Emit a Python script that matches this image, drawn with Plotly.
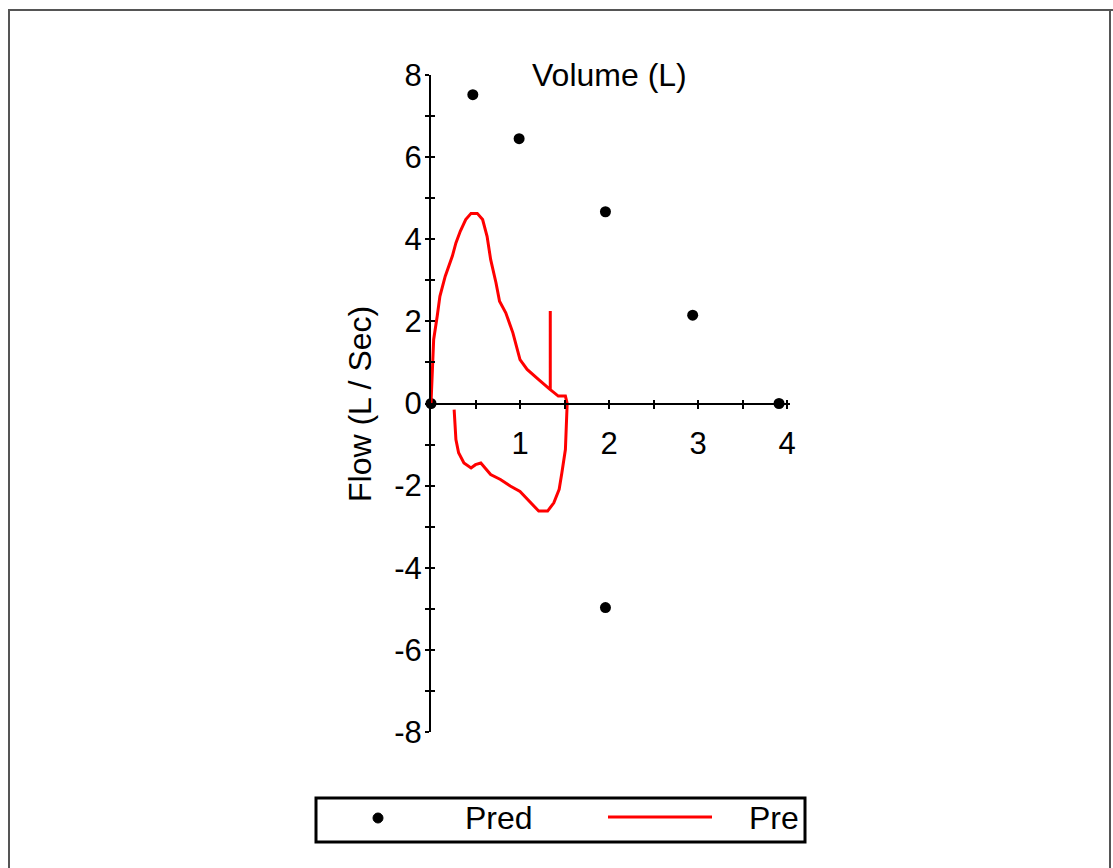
import plotly.graph_objects as go

# ---- data ----
pred_volume = [0.0, 0.47, 0.99, 1.96, 2.94, 3.91, 1.96]
pred_flow = [0.0, 7.52, 6.45, 4.67, 2.15, 0.0, -4.97]

pre_volume = [0.00, 0.01, 0.03, 0.07, 0.10, 0.16, 0.24, 0.28, 0.33, 0.39, 0.45, 0.52,
              0.58, 0.63, 0.67, 0.73, 0.77, 0.84, 0.92, 1.00, 1.08, 1.21, 1.31, 1.34,
              1.34, 1.34, 1.43, 1.51, 1.53,
              1.52, 1.51, 1.47, 1.44, 1.38, 1.31, 1.21, 1.12, 1.00, 0.89, 0.78, 0.67,
              0.56, 0.50, 0.45, 0.37, 0.31, 0.28, 0.26]
pre_flow = [0.00, 0.66, 1.56, 2.13, 2.61, 3.10, 3.59, 3.91, 4.20, 4.48, 4.63, 4.63,
            4.48, 4.07, 3.51, 2.94, 2.49, 2.21, 1.72, 1.07, 0.83, 0.58, 0.38, 0.34,
            2.25, 0.34, 0.18, 0.18, 0.00,
            -0.47, -1.12, -1.69, -2.09, -2.42, -2.62, -2.62, -2.42, -2.14, -2.01, -1.85, -1.73,
            -1.45, -1.49, -1.57, -1.45, -1.20, -0.88, -0.15]

x_ticks = [1, 2, 3, 4]
y_ticks = [-8, -6, -4, -2, 0, 2, 4, 6, 8]
y_tick_text = ["-8", "-6", "-4", "-2", "0", "2", "4", "6", "8"]

x_title = "Volume (L)"
y_title = "Flow (L / Sec)"
legend_names = ["Pred", "Pre"]

# ---- layout helpers ----
W, H = 1113, 868
def px(x):
    return x / W
def py(y):
    return 1 - y / H

FONT = "Arial, Liberation Sans, sans-serif"
x_dom = [px(431), px(789.7)]
y_dom = [py(732), py(75)]
x_range = [0, 4.03]
y_range = [-8, 8]
x_axis_pos = py(403.5)

fig = go.Figure()
fig.add_trace(go.Scatter(x=pred_volume, y=pred_flow, mode="markers", name=legend_names[0],
                         marker=dict(color="black", size=11), cliponaxis=False, showlegend=False))
fig.add_trace(go.Scatter(x=pre_volume, y=pre_flow, mode="lines", name=legend_names[1],
                         line=dict(color="#ff0000", width=3), cliponaxis=False, showlegend=False))
# helper trace so the overlay axes (opposite-side tick marks) are drawn
fig.add_trace(go.Scatter(x=[None], y=[None], xaxis="x2", yaxis="y2", showlegend=False,
                         hoverinfo="skip"))

tick_font = dict(family=FONT, size=31, color="black")
fig.update_layout(
    width=W, height=H,
    margin=dict(l=0, r=0, t=0, b=0, pad=0, autoexpand=False),
    paper_bgcolor="white", plot_bgcolor="white",
    showlegend=False,
    xaxis=dict(domain=x_dom, range=x_range, anchor="free", position=x_axis_pos,
               showline=True, linecolor="black", linewidth=2,
               showgrid=False, zeroline=False, automargin=False,
               tickvals=x_ticks, ticktext=[str(t) for t in x_ticks],
               ticks="outside", ticklen=4, tickwidth=2, tickcolor="black",
               tickfont=tick_font, ticklabelstandoff=8,
               minor=dict(ticks="outside", ticklen=4, tickwidth=2, tickcolor="black",
                          tick0=0, dtick=0.5, showgrid=False)),
    yaxis=dict(domain=y_dom, range=y_range, anchor="x",
               showline=True, linecolor="black", linewidth=2,
               showgrid=False, zeroline=False, automargin=False,
               tickvals=y_ticks, ticktext=y_tick_text,
               ticks="outside", ticklen=4, tickwidth=2, tickcolor="black",
               tickfont=tick_font, ticklabelstandoff=-3,
               minor=dict(ticks="outside", ticklen=4, tickwidth=2, tickcolor="black",
                          tick0=0, dtick=1, showgrid=False)),
    xaxis2=dict(domain=x_dom, range=x_range, overlaying="x", anchor="free", position=x_axis_pos,
                showline=False, showgrid=False, zeroline=False, showticklabels=False,
                automargin=False,
                tickvals=x_ticks, ticks="inside", ticklen=4, tickwidth=2, tickcolor="black",
                minor=dict(ticks="inside", ticklen=4, tickwidth=2, tickcolor="black",
                           tick0=0, dtick=0.5, showgrid=False)),
    yaxis2=dict(domain=y_dom, range=y_range, overlaying="y", anchor="x2",
                showline=False, showgrid=False, zeroline=False, showticklabels=False,
                automargin=False,
                tickvals=y_ticks, ticks="inside", ticklen=4, tickwidth=2, tickcolor="black",
                minor=dict(ticks="inside", ticklen=4, tickwidth=2, tickcolor="black",
                           tick0=0, dtick=1, showgrid=False)),
)

# axis titles
fig.add_annotation(text=x_title, x=px(609), y=py(75), xref="paper", yref="paper",
                   xanchor="center", yanchor="middle", showarrow=False,
                   font=dict(family=FONT, size=32, color="black"))
fig.add_annotation(text=y_title, x=px(360), y=py(404), xref="paper", yref="paper",
                   xanchor="center", yanchor="middle", textangle=-90, showarrow=False,
                   font=dict(family=FONT, size=32, color="black"))

# outer frame (left, top, right edges)
frame = dict(color="#555555", width=2)
fig.add_shape(type="line", xref="paper", yref="paper", x0=px(9), x1=px(9), y0=0, y1=py(10),
              line=frame, layer="below")
fig.add_shape(type="line", xref="paper", yref="paper", x0=px(8), x1=1, y0=py(10), y1=py(10),
              line=frame, layer="below")
fig.add_shape(type="line", xref="paper", yref="paper", x0=px(1110), x1=px(1110), y0=0, y1=py(10),
              line=frame, layer="below")

# legend box (manual, mimics original layout)
fig.add_shape(type="rect", xref="paper", yref="paper",
              x0=px(316), x1=px(805), y0=py(842), y1=py(798),
              line=dict(color="black", width=3), fillcolor="white")
fig.add_shape(type="circle", xref="paper", yref="paper",
              x0=px(373), x1=px(383), y0=py(823), y1=py(813),
              line=dict(color="black", width=1), fillcolor="black")
fig.add_annotation(text=legend_names[0], x=px(463), y=py(818), xref="paper", yref="paper",
                   xanchor="left", yanchor="middle", showarrow=False,
                   font=dict(family=FONT, size=32, color="black"))
fig.add_shape(type="line", xref="paper", yref="paper",
              x0=px(608), x1=px(712), y0=py(817), y1=py(817),
              line=dict(color="#ff0000", width=3))
fig.add_annotation(text=legend_names[1], x=px(747), y=py(818), xref="paper", yref="paper",
                   xanchor="left", yanchor="middle", showarrow=False,
                   font=dict(family=FONT, size=32, color="black"))

fig.write_html("out.html")
